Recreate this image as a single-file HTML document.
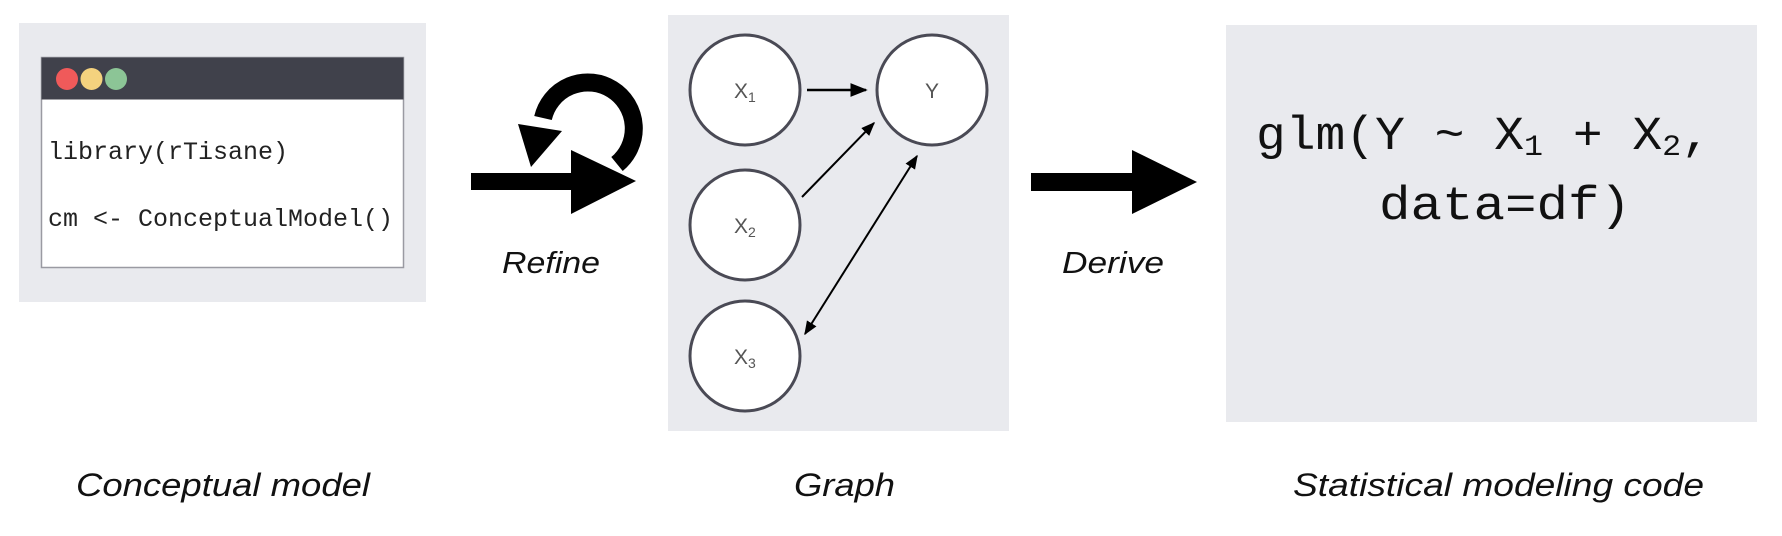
<!DOCTYPE html>
<html><head><meta charset="utf-8"><style>
html,body{margin:0;padding:0;background:#fff;}
svg{display:block;}
</style></head><body>
<svg width="1782" height="536" viewBox="0 0 1782 536" xmlns="http://www.w3.org/2000/svg">
<defs>
<marker id="ah" viewBox="0 0 10 10" refX="9" refY="5" markerWidth="7" markerHeight="7" orient="auto-start-reverse"><path d="M0,1 L10,5 L0,9 z" fill="#000"/></marker>
</defs>
<rect x="19" y="23" width="407" height="279" fill="#e9eaee"/>
<g>
<rect x="41.5" y="57.5" width="362" height="210" fill="#fff" stroke="#9a9aa2" stroke-width="1.5"/>
<rect x="41.5" y="57.5" width="362" height="42" fill="#40414b"/>
<circle cx="67" cy="79" r="11" fill="#f05a5a"/>
<circle cx="91.5" cy="79" r="11" fill="#f4d27e"/>
<circle cx="116" cy="79" r="11" fill="#8cc596"/>
<text x="48" y="159" font-family="Liberation Mono, monospace" font-size="25" fill="#222" textLength="240" lengthAdjust="spacingAndGlyphs">library(rTisane)</text>
<text x="48" y="226" font-family="Liberation Mono, monospace" font-size="25" fill="#222" textLength="345" lengthAdjust="spacingAndGlyphs">cm &lt;- ConceptualModel()</text>
</g>
<g>
<rect x="471" y="173" width="102" height="17" fill="#000"/>
<path d="M571,150 L636,181 L571,214 z" fill="#000"/>
<path d="M543,118 A46,46 0 1,1 617,164" fill="none" stroke="#000" stroke-width="18"/>
<path d="M518,124 L562,131 L531,167 z" fill="#000"/>
</g>
<text x="502" y="273" font-family="Liberation Sans, sans-serif" font-style="italic" font-size="31" fill="#111" textLength="98" lengthAdjust="spacingAndGlyphs">Refine</text>
<rect x="668" y="15" width="341" height="416" fill="#e9eaee"/>
<g font-family="Liberation Sans, sans-serif" fill="#555" font-size="21">
<circle cx="745" cy="90" r="55" fill="#fff" stroke="#4a4a55" stroke-width="3"/>
<circle cx="932" cy="90" r="55" fill="#fff" stroke="#4a4a55" stroke-width="3"/>
<circle cx="745" cy="225" r="55" fill="#fff" stroke="#4a4a55" stroke-width="3"/>
<circle cx="745" cy="356" r="55" fill="#fff" stroke="#4a4a55" stroke-width="3"/>
<text x="734" y="98" fill="#555">X<tspan font-size="14" dy="4">1</tspan></text>
<text x="925" y="98" fill="#555">Y</text>
<text x="734" y="233" fill="#555">X<tspan font-size="14" dy="4">2</tspan></text>
<text x="734" y="364" fill="#555">X<tspan font-size="14" dy="4">3</tspan></text>
<line x1="807" y1="90" x2="866" y2="90" stroke="#000" stroke-width="2.5" marker-end="url(#ah)"/>
<line x1="802" y1="197" x2="874" y2="123" stroke="#000" stroke-width="2" marker-end="url(#ah)"/>
<line x1="805" y1="334" x2="917" y2="156" stroke="#000" stroke-width="2" marker-start="url(#ah)" marker-end="url(#ah)"/>
</g>
<g>
<rect x="1031" y="173" width="103" height="18" fill="#000"/>
<path d="M1132,150 L1197,182 L1132,214 z" fill="#000"/>
</g>
<text x="1062" y="273" font-family="Liberation Sans, sans-serif" font-style="italic" font-size="31" fill="#111" textLength="102" lengthAdjust="spacingAndGlyphs">Derive</text>
<rect x="1226" y="25" width="531" height="397" fill="#e9eaee"/>
<text x="1256" y="149" font-family="Liberation Mono, monospace" font-size="47" fill="#111" textLength="455" lengthAdjust="spacingAndGlyphs">glm(Y ~ X<tspan font-size="30" dy="6">1</tspan><tspan dy="-6"> + X</tspan><tspan font-size="30" dy="6">2</tspan><tspan dy="-6">,</tspan></text>
<text x="1379" y="219" font-family="Liberation Mono, monospace" font-size="47" fill="#111" textLength="252" lengthAdjust="spacingAndGlyphs">data=df)</text>
<g font-family="Liberation Sans, sans-serif" font-style="italic" font-size="32" fill="#111">
<text x="76" y="496" textLength="294" lengthAdjust="spacingAndGlyphs">Conceptual model</text>
<text x="794" y="496" textLength="101" lengthAdjust="spacingAndGlyphs">Graph</text>
<text x="1293" y="496" textLength="411" lengthAdjust="spacingAndGlyphs">Statistical modeling code</text>
</g>
</svg>
</body></html>
